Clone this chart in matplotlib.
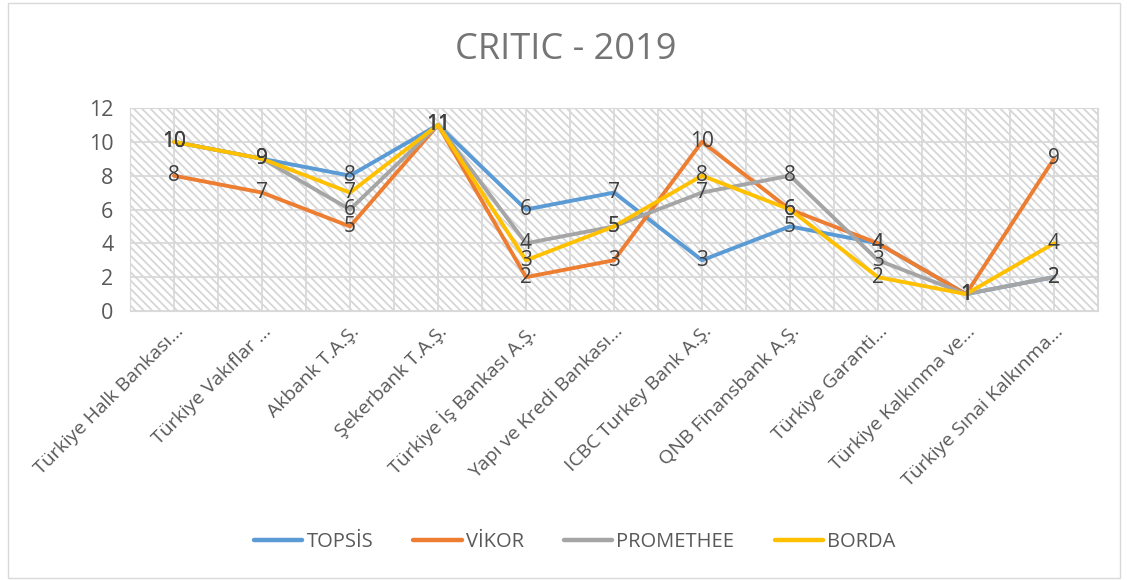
import matplotlib.pyplot as plt
from matplotlib.patches import Rectangle
import numpy as np

# Data
banks = ["Türkiye Halk Bankası...", "Türkiye Vakıflar ...", "Akbank T.A.Ş.",
         "Şekerbank T.A.Ş.", "Türkiye İş Bankası A.Ş.", "Yapı ve Kredi Bankası...",
         "ICBC Turkey Bank A.Ş.", "QNB Finansbank A.Ş.", "Türkiye Garanti...",
         "Türkiye Kalkınma ve...", "Türkiye Sınai Kalkınma..."]
topsis = [10, 9, 8, 11, 6, 7, 3, 5, 4, 1, 2]
vikor = [8, 7, 5, 11, 2, 3, 10, 6, 4, 1, 9]
promethee = [10, 9, 6, 11, 4, 5, 7, 8, 3, 1, 2]
borda = [10, 9, 7, 11, 3, 5, 8, 6, 2, 1, 4]

series = [("TOPSİS", topsis, "#5B9BD5"),
          ("VİKOR", vikor, "#ED7D31"),
          ("PROMETHEE", promethee, "#A5A5A5"),
          ("BORDA", borda, "#FFC000")]

plt.rcParams['font.family'] = ['Open Sans', 'DejaVu Sans']
plt.rcParams['hatch.linewidth'] = 1.3
plt.rcParams['hatch.color'] = '#d6d6d6'

fig = plt.figure(figsize=(11.27, 5.8), dpi=100)
ax = fig.add_axes([130/1127, 1 - 311/580, 968/1127, 203/580])

# outer chart border
fig.patches.append(Rectangle((8/1127, 2/580), 1112/1127, 575/580, transform=fig.transFigure,
                             fill=False, edgecolor='#d9d9d9', linewidth=1))

x = np.arange(len(banks))
ax.set_xlim(-0.5, len(banks) - 0.5)
ax.set_ylim(0, 12)

# hatched plot background
ax.add_patch(Rectangle((0, 0), 1, 1, transform=ax.transAxes, facecolor='white',
                       hatch='\\\\\\\\', edgecolor='#d6d6d6', linewidth=0, zorder=0))

# gridlines
for yv in range(0, 13, 2):
    ax.axhline(yv, color='#d9d9d9', linewidth=1.3, zorder=1)
for xv in np.arange(-0.5, len(banks), 0.5):
    ax.axvline(xv, color='#d9d9d9', linewidth=1.3, zorder=1)

for name, vals, col in series:
    ax.plot(x, vals, color=col, linewidth=2.8, label=name, zorder=3, solid_capstyle='round')

for name, vals, col in series:
    for xi, v in zip(x, vals):
        ax.text(xi, v, str(v), ha='center', va='center', fontsize=15,
                color='#404040', zorder=5)

for s in ax.spines.values():
    s.set_color('#d9d9d9')
ax.set_yticks(range(0, 13, 2))
ax.set_xticks(x)
ax.set_xticklabels(banks, rotation=45, ha='right', rotation_mode='anchor',
                   fontsize=14, color='#595959')
ax.tick_params(axis='y', labelsize=15.5, labelcolor='#595959', length=0, pad=12)
ax.tick_params(axis='x', length=0, pad=8)

fig.text(0.502, 1 - 50/580, "CRITIC - 2019", ha='center', va='center',
         fontsize=26, color='#757575')

leg = fig.legend(loc='center', bbox_to_anchor=(0.51, 1 - 542/580), ncol=4, frameon=False,
                 fontsize=14.5, handlelength=2.4, columnspacing=2.0, handletextpad=0.2)
for line in leg.get_lines():
    line.set_linewidth(3.2)
for t in leg.get_texts():
    t.set_color('#595959')

fig.savefig("out.png", dpi=100)
